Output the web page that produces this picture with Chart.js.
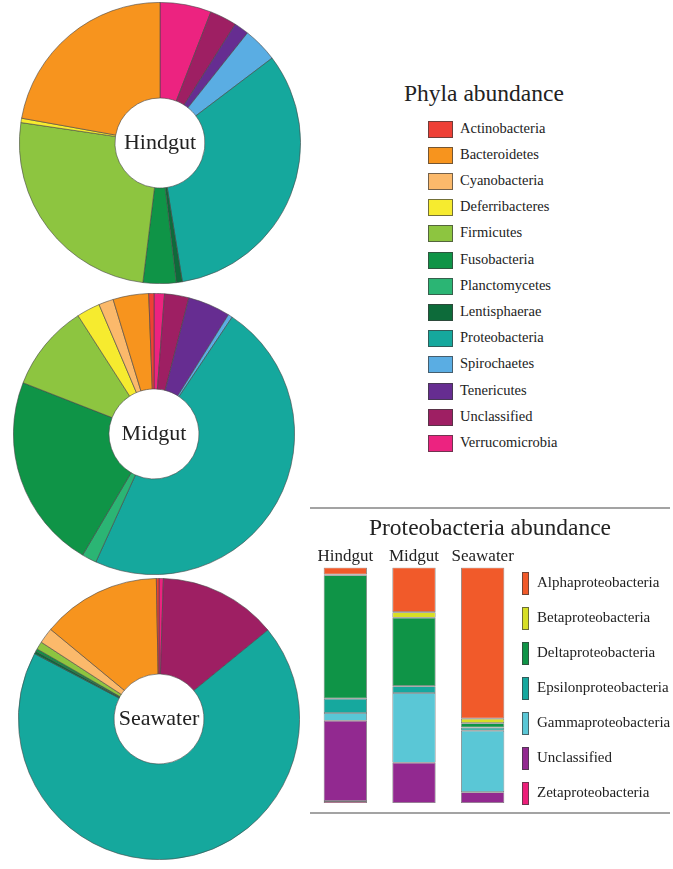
<!DOCTYPE html>
<html>
<head>
<meta charset="utf-8">
<script src="https://cdn.jsdelivr.net/npm/chart.js@4/dist/chart.umd.min.js"></script>
<style>
  body { margin: 0; background: #fff; font-family: 'Liberation Serif', 'Times New Roman', serif; color: #222; }
  #page { position: relative; width: 673px; height: 869px; overflow: hidden; }
  canvas { position: absolute; }
  .centre { position: absolute; width: 100px; text-align: center; font-size: 22px; line-height: 26px; }
  .title { position: absolute; white-space: nowrap; }
  .leg { position: absolute; font-size: 14.5px; white-space: nowrap; }
  .leg i { position: absolute; border: 1px solid rgba(60,60,60,0.7); box-sizing: border-box; }
  .rule { position: absolute; height: 2px; background: #a3a3a3; }
</style>
</head>
<body>
<div id="page">
  <canvas id="hindgut" width="282" height="282" style="left:19px;top:2px"></canvas>
  <canvas id="midgut" width="282" height="282" style="left:13px;top:293px"></canvas>
  <canvas id="seawater" width="282" height="282" style="left:18px;top:578px"></canvas>
  <div class="rule" style="left:310px;top:507px;width:360px"></div>
  <div class="rule" style="left:310px;top:812px;width:360px"></div>
  <canvas id="proteo" width="360" height="300" style="left:310px;top:510px"></canvas>
  <div class="title" style="left:310px;width:360px;text-align:center;top:512px;font-size:23.5px;line-height:30px">Proteobacteria abundance</div>
</div>
<script>
// Phyla (legend order, top to bottom)
const phyla = ['Actinobacteria', 'Bacteroidetes', 'Cyanobacteria', 'Deferribacteres', 'Firmicutes',
  'Fusobacteria', 'Planctomycetes', 'Lentisphaerae', 'Proteobacteria', 'Spirochaetes',
  'Tenericutes', 'Unclassified', 'Verrucomicrobia'];
const phylaColors = ['#EE4036', '#F7941E', '#FBB96B', '#F6EB2F', '#8DC540', '#0F9447', '#2BB574',
  '#0D6B3A', '#15A89D', '#5AADE3', '#662D91', '#9E1F63', '#EC2380'];

// relative abundance (%), same order as phyla
const hindgutPhyla = [0, 22.2, 0, 0.5, 25.4, 3.8, 0, 0.7, 32.8, 4.0, 1.7, 3.1, 5.9];
const midgutPhyla = [0.6, 4.1, 1.7, 2.7, 10.0, 22.5, 1.7, 0, 47.5, 0.5, 4.9, 2.8, 1.2];
const seawaterPhyla = [0.3, 13.7, 1.8, 0, 0.9, 0.3, 0, 0.3, 68.6, 0, 0, 13.6, 0.5];

// Proteobacteria classes per site (%)
const sites = ['Hindgut', 'Midgut', 'Seawater'];
const proteoClasses = ['Alphaproteobacteria', 'Betaproteobacteria', 'Deltaproteobacteria',
  'Epsilonproteobacteria', 'Gammaproteobacteria', 'Unclassified', 'Zetaproteobacteria'];
const proteoColors = ['#F15A2A', '#D7DF26', '#0F9447', '#16A89E', '#5AC7D6', '#922990', '#EC1E79'];
const alpha = [3.0, 19.0, 64.2];
const beta = [0.3, 2.4, 1.9];
const delta = [52.4, 29.0, 1.9];
const epsilon = [6.1, 2.9, 1.3];
const gamma = [3.3, 29.6, 26.1];
const unclassifiedProteo = [34.1, 17.1, 4.6];
const zeta = [0.8, 0, 0];

const serif = "'Liberation Serif', 'Times New Roman', serif";
const page = document.getElementById('page');

// --- donuts: drawn clockwise from 12 o'clock in reverse legend order ---
function makeDonut(id, label, values) {
  const canvas = document.getElementById(id);
  new Chart(canvas.getContext('2d'), {
    type: 'doughnut',
    data: {
      labels: phyla.slice().reverse(),
      datasets: [{
        data: values.slice().reverse(),
        backgroundColor: phylaColors.slice().reverse(),
        borderColor: 'rgba(70,70,70,0.75)',
        borderWidth: 0.8,
      }],
    },
    options: {
      responsive: false,
      animation: false,
      cutout: '32%',
      plugins: { legend: { display: false }, tooltip: { enabled: false } },
    },
  });
  // centre label
  const div = document.createElement('div');
  div.className = 'centre';
  div.textContent = label;
  div.style.left = (parseFloat(canvas.style.left) + 141 - 50) + 'px';
  div.style.top = (parseFloat(canvas.style.top) + 141 - 14) + 'px';
  page.appendChild(div);
}

makeDonut('hindgut', 'Hindgut', hindgutPhyla);
makeDonut('midgut', 'Midgut', midgutPhyla);
makeDonut('seawater', 'Seawater', seawaterPhyla);

// --- phyla legend ---
const phylaTitle = document.createElement('div');
phylaTitle.className = 'title';
phylaTitle.textContent = 'Phyla abundance';
phylaTitle.style.cssText += 'left:404px;top:80px;font-size:23.5px';
page.appendChild(phylaTitle);

phyla.forEach((name, i) => {
  const y = 120.5 + i * 26.2;
  const item = document.createElement('div');
  item.className = 'leg';
  item.style.left = '460px';
  item.style.top = (y - 1) + 'px';
  item.textContent = name;
  const box = document.createElement('i');
  box.style.cssText = `left:-32px;top:1px;width:25px;height:17px;background:${phylaColors[i]}`;
  item.appendChild(box);
  page.appendChild(item);
});

// --- Proteobacteria stacked bars (bottom segment first) ---
const seriesTopDown = [alpha, beta, delta, epsilon, gamma, unclassifiedProteo, zeta];
const datasets = seriesTopDown.map((vals, i) => ({
  label: proteoClasses[i],
  data: vals,
  backgroundColor: proteoColors[i],
  borderColor: 'rgba(60,60,60,0.7)',
  borderWidth: 0.8,
  borderSkipped: false,
})).reverse();

new Chart(document.getElementById('proteo').getContext('2d'), {
  type: 'bar',
  data: { labels: sites, datasets },
  options: {
    responsive: false,
    animation: false,
    layout: { padding: { left: 1, right: 153, top: 35, bottom: 7 } },
    datasets: { bar: { barPercentage: 0.63, categoryPercentage: 1 } },
    scales: {
      x: {
        stacked: true,
        position: 'top',
        grid: { display: false, drawTicks: false },
        border: { display: false },
        ticks: { color: '#222', font: { family: serif, size: 17 }, padding: 1 },
      },
      y: { stacked: true, display: false, min: 0, max: 100 },
    },
    plugins: {
      legend: { display: false },
      tooltip: { enabled: false },
    },
  },
});

// legend for the bars
proteoClasses.forEach((name, i) => {
  const y = 583 + i * 35;
  const item = document.createElement('div');
  item.className = 'leg';
  item.style.fontSize = '15px';
  item.style.left = '537px';
  item.style.top = (y - 9) + 'px';
  item.textContent = name;
  const box = document.createElement('i');
  box.style.cssText = `left:-15px;top:-2px;width:7px;height:23px;background:${proteoColors[i]}`;
  item.appendChild(box);
  page.appendChild(item);
});
</script>
</body>
</html>
